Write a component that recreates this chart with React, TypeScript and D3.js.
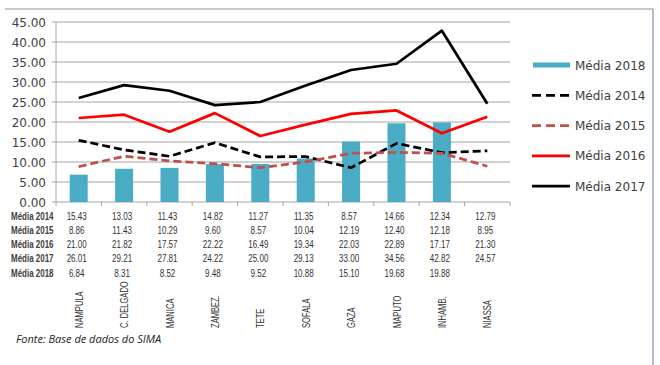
import React from 'react';
import * as d3 from 'd3';

const regions = ['NAMPULA', 'C. DELGADO', 'MANICA', 'ZAMBEZ.', 'TETE', 'SOFALA', 'GAZA', 'MAPUTO', 'INHAMB.', 'NIASSA'];
const media2014 = [15.43, 13.03, 11.43, 14.82, 11.27, 11.35, 8.57, 14.66, 12.34, 12.79];
const media2015 = [8.86, 11.43, 10.29, 9.6, 8.57, 10.04, 12.19, 12.4, 12.18, 8.95];
const media2016 = [21.0, 21.82, 17.57, 22.22, 16.49, 19.34, 22.03, 22.89, 17.17, 21.3];
const media2017 = [26.01, 29.21, 27.81, 24.22, 25.0, 29.13, 33.0, 34.56, 42.82, 24.57];
const media2018: (number | null)[] = [6.84, 8.31, 8.52, 9.48, 9.52, 10.88, 15.1, 19.68, 19.88, null];
const yTicks = [0, 5, 10, 15, 20, 25, 30, 35, 40, 45];

const lineSeries = [
  { name: 'Média 2014', values: media2014, color: '#000000', dash: '8,4' },
  { name: 'Média 2015', values: media2015, color: '#c0504d', dash: '8,4' },
  { name: 'Média 2016', values: media2016, color: '#ff0000', dash: '' },
  { name: 'Média 2017', values: media2017, color: '#000000', dash: '' },
];
const tableRows = [
  { name: 'Média 2014', values: media2014 as (number | null)[] },
  { name: 'Média 2015', values: media2015 as (number | null)[] },
  { name: 'Média 2016', values: media2016 as (number | null)[] },
  { name: 'Média 2017', values: media2017 as (number | null)[] },
  { name: 'Média 2018', values: media2018 },
];
const legendItems = ['Média 2018', 'Média 2014', 'Média 2015', 'Média 2016', 'Média 2017'];

const BAR = '#4bacc6';
const GRID = '#a6a6a6';
const TEXT = '#404040';
const VERD = '"DejaVu Sans", Verdana, sans-serif';
const ARIAL = '"Liberation Sans", Arial, sans-serif';

export default function App() {
  const x = d3.scaleBand<string>().domain(regions).range([56, 510]);
  const y = d3.scaleLinear().domain([0, 45]).range([202, 22]);
  const cx = (r: string) => (x(r) || 0) + x.bandwidth() / 2;
  const barW = 18;

  const line = d3.line<number>()
    .x((_, i) => cx(regions[i]))
    .y(d => y(d));

  const legendY = d3.scalePoint<string>().domain(legendItems).range([65, 186]);

  return (
    <svg width={660} height={365} style={{ position: 'absolute', left: 0, top: 0, background: '#fff' }}>
      {/* frame */}
      <line x1={5} x2={653} y1={9} y2={9} stroke="#b4b4b4" strokeWidth={1.5} />
      <line x1={653} x2={653} y1={9} y2={365} stroke="#9aa6b8" strokeWidth={1.5} />

      {/* gridlines + y labels */}
      {yTicks.map(t => (
        <g key={t}>
          <line x1={52} x2={510} y1={y(t)} y2={y(t)} stroke={GRID} strokeWidth={1} />
          <text x={46} y={y(t) + 4.5} textAnchor="end" fontFamily={VERD} fontSize={12} fill={TEXT}>
            {t.toFixed(2)}
          </text>
        </g>
      ))}
      <line x1={56} x2={56} y1={y(45)} y2={y(0)} stroke={GRID} strokeWidth={1} />
      {regions.concat(['']).map((r, i) => {
        const xx = 56 + i * x.step();
        return <line key={i} x1={xx} x2={xx} y1={y(0)} y2={y(0) + 4} stroke={GRID} strokeWidth={1} />;
      })}

      {/* bars */}
      {media2018.map((v, i) =>
        v == null ? null : (
          <rect key={i} x={cx(regions[i]) - barW / 2} y={y(v)} width={barW} height={y(0) - y(v)} fill={BAR} />
        )
      )}

      {/* lines */}
      {lineSeries.map(s => (
        <path key={s.name} d={line(s.values) || ''} fill="none" stroke={s.color} strokeWidth={2.75}
          strokeDasharray={s.dash || undefined} strokeLinejoin="round" />
      ))}

      {/* data table */}
      {tableRows.map((row, ri) => {
        const by = 219.5 + ri * 14.3;
        return (
          <g key={row.name}>
            <text transform={`translate(11,${by}) scale(0.76,1)`} fontFamily={ARIAL} fontWeight="bold" fontSize={10.5} fill={TEXT}>
              {row.name}
            </text>
            {row.values.map((v, i) =>
              v == null ? null : (
                <text key={i} transform={`translate(${cx(regions[i]) - 2},${by}) scale(0.7,1)`} textAnchor="middle"
                  fontFamily={ARIAL} fontSize={11.5} fill="#333">
                  {v.toFixed(2)}
                </text>
              )
            )}
          </g>
        );
      })}

      {/* category labels */}
      {regions.map(r => (
        <text key={r} transform={`translate(${cx(r) + 4},328) rotate(-90) scale(0.66,1)`} fontFamily={ARIAL} fontSize={11.5} fill="#333">
          {r}
        </text>
      ))}

      {/* legend */}
      {legendItems.map(name => {
        const ly = legendY(name) || 0;
        const s = lineSeries.find(l => l.name === name);
        return (
          <g key={name}>
            {s ? (
              <line x1={532} x2={570} y1={ly} y2={ly} stroke={s.color} strokeWidth={2.75} strokeDasharray={s.dash ? '9,5' : undefined} />
            ) : (
              <rect x={533} y={ly - 2.5} width={37} height={5} fill={BAR} />
            )}
            <text x={575} y={ly + 4.5} fontFamily={VERD} fontSize={12} fill={TEXT}>{name}</text>
          </g>
        );
      })}

      <text x={16} y={343} fontFamily='"Open Sans", sans-serif' fontStyle="italic" fontSize={11} fill="#222">
        Fonte: Base de dados do SIMA
      </text>
    </svg>
  );
}
